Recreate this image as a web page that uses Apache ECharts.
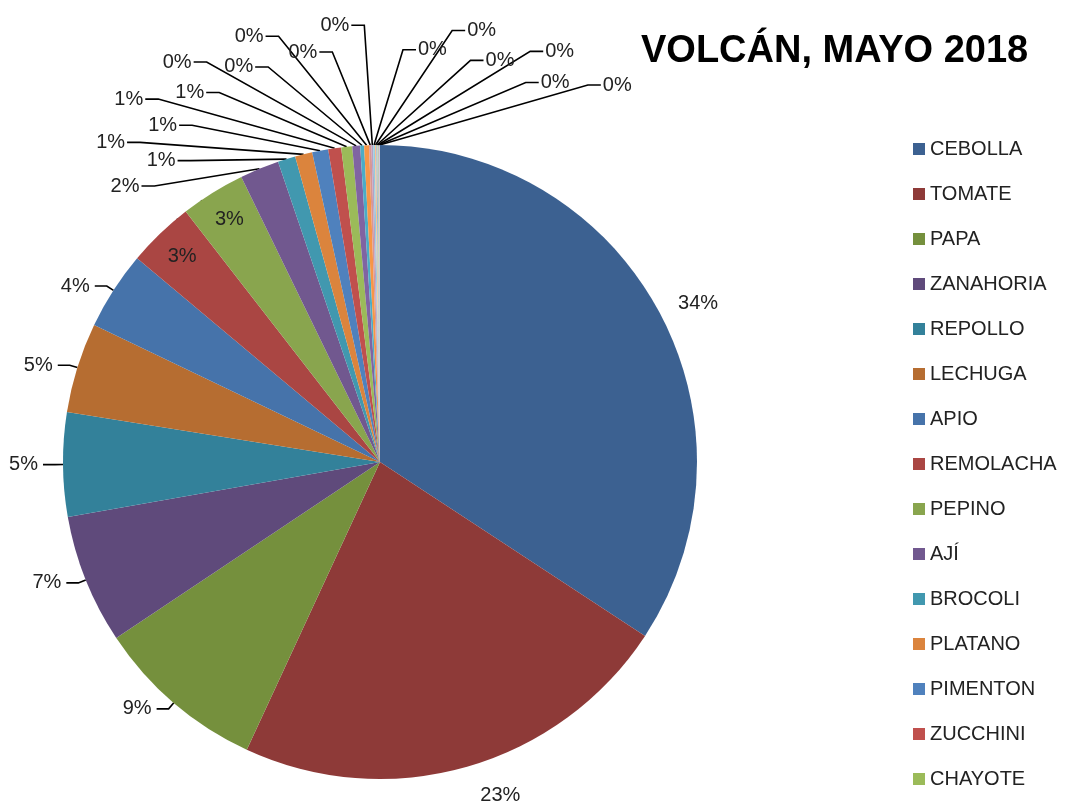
<!DOCTYPE html>
<html>
<head>
<meta charset="utf-8">
<script src="https://cdn.jsdelivr.net/npm/echarts@6/dist/echarts.min.js"></script>
<style>html,body{margin:0;padding:0;background:#fff}#c{width:1071px;height:811px}</style>
</head>
<body>
<div id="c"></div>
<script>
const titleText = 'VOLCÁN, MAYO 2018';
const categories = ['CEBOLLA','TOMATE','PAPA','ZANAHORIA','REPOLLO','LECHUGA','APIO','REMOLACHA','PEPINO','AJÍ','BROCOLI','PLATANO','PIMENTON','ZUCCHINI','CHAYOTE',
  'PRODUCTO 16','PRODUCTO 17','PRODUCTO 18','PRODUCTO 19','PRODUCTO 20','PRODUCTO 21','PRODUCTO 22','PRODUCTO 23','PRODUCTO 24','PRODUCTO 25','PRODUCTO 26'];
const values = [34.3,22.7,8.75,6.6,5.3,4.6,4.0,3.4,3.3,2.0,0.9,0.88,0.82,0.66,0.56,0.40,0.20,0.25,0.12,0.09,0.08,0.07,0.06,0.05,0.04,0.04];
const legendShown = categories.slice(0, 15);
const colors = ['#3C6191','#8E3A38','#75903D','#5F4A7B','#33819A','#B66D31','#4673AA','#AA4643','#89A54E','#71588F','#4198AF','#DB843D','#4F81BD','#C0504D','#9BBB59',
  '#8064A2','#4BACC6','#F79646','#D99694','#B3A2C7','#93CDDD','#FAC090','#95B3D7','#C3D69B','#A5A5A5','#CCC1DA'];
const insideLabels = ['REMOLACHA','PEPINO'];
const firstFanIndex = 9;   // small slices whose labels are fanned out above the pie

const CENTER = [380, 462];
const RADIUS = 317;

const data = categories.map((n, i) => {
  const d = { name: n, value: values[i], itemStyle: { color: colors[i] } };
  if (insideLabels.includes(n)) d.label = { position: 'inside' };
  if (n === 'CEBOLLA') d.labelLine = { show: false, length: 16, length2: 0 };
  if (n === 'TOMATE') d.labelLine = { show: false, length: 30, length2: 0 };
  return d;
});

function layoutLabel(p) {
  const i = p.dataIndex;
  const name = categories[i];
  if (insideLabels.includes(name)) {
    const r = p.labelRect;
    const lx = r.x + r.width / 2, ly = r.y + r.height / 2;
    const vx = lx - CENTER[0], vy = ly - CENTER[1];
    const len = Math.sqrt(vx * vx + vy * vy) || 1;
    const s = RADIUS * 0.9 / len;
    return { x: CENTER[0] + vx * s, y: CENTER[1] + vy * s, align: 'center', verticalAlign: 'middle' };
  }
  if (i >= firstFanIndex && p.labelLinePoints) {
    const n = categories.length - firstFanIndex;
    const k = i - firstFanIndex;
    const phi = (200 - k * (170 / (n - 1))) * Math.PI / 180;
    const scale = (k % 2 === 0) ? 1 : 0.8;
    const topX = CENTER[0], topY = CENTER[1] - RADIUS;
    const ax = topX + 240 * scale * Math.cos(phi);
    const ay = topY - 120 * scale * Math.sin(phi);
    const p0 = p.labelLinePoints[0];
    const dir = Math.cos(phi) < 0 ? -1 : 1;
    const ex = ax + dir * 13;
    return { x: ex + dir * 2, y: ay, align: dir < 0 ? 'right' : 'left', verticalAlign: 'middle',
      labelLinePoints: [p0, [ax, ay], [ex, ay]] };
  }
  return {};
}

const chart = echarts.init(document.getElementById('c'));
chart.setOption({
  animation: false,
  title: {
    text: titleText, left: 636, top: 28,
    textStyle: { fontFamily: 'Liberation Sans', fontWeight: 'bold', fontSize: 38, color: '#000' }
  },
  legend: {
    orient: 'vertical', left: 908, top: 134,
    data: legendShown,
    itemWidth: 12, itemHeight: 12, itemGap: 25,
    icon: 'rect',
    textStyle: { fontFamily: 'Liberation Sans', fontSize: 20, color: '#222', lineHeight: 20 }
  },
  series: [{
    type: 'pie',
    center: CENTER,
    radius: RADIUS,
    startAngle: 90,
    clockwise: true,
    avoidLabelOverlap: false,
    minShowLabelAngle: 0,
    data: data,
    label: {
      show: true,
      formatter: p => Math.round(p.percent) + '%',
      fontFamily: 'Liberation Sans', fontSize: 20, color: '#222'
    },
    labelLine: { show: true, length: 8, length2: 12, lineStyle: { color: '#000', width: 1.6 } },
    labelLayout: layoutLabel,
    emphasis: { disabled: true }
  }]
});
</script>
</body>
</html>
